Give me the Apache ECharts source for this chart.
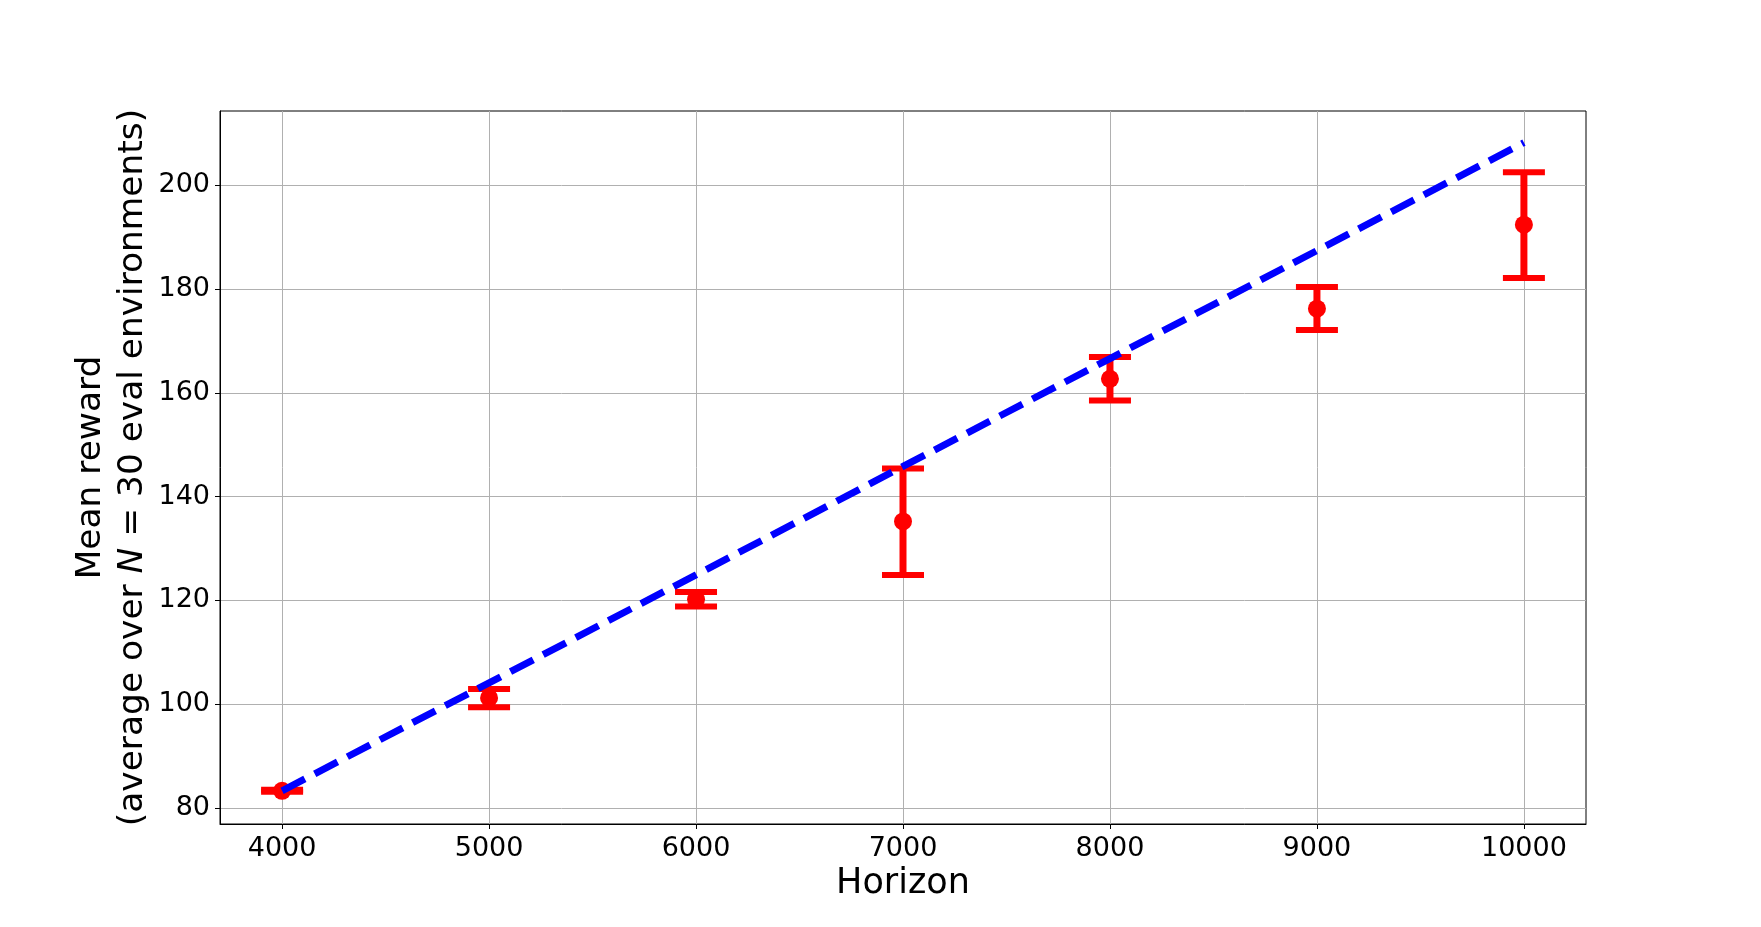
<!DOCTYPE html>
<html>
<head>
<meta charset="utf-8">
<title>Mean reward vs horizon</title>
<script src="https://cdn.jsdelivr.net/npm/echarts@6/dist/echarts.min.js"></script>
<style>
  html, body { margin: 0; padding: 0; background: #fff; }
  #chart { width: 1761px; height: 927px; }
</style>
</head>
<body>
<div id="chart"></div>
<script>
// values
const horizons = [4000, 5000, 6000, 7000, 8000, 9000, 10000]
const meanReward = [83.3, 101.2, 120.2, 135.2, 162.7, 176.2, 192.4]
const errLower = [83.1, 99.4, 118.8, 124.9, 158.5, 172.1, 182.1]
const errUpper = [83.5, 102.9, 121.6, 145.4, 166.9, 180.4, 202.5]
const linearRef = [83.3, 104.1, 124.9, 145.8, 166.6, 187.4, 208.2]
const xTicks = [4000, 5000, 6000, 7000, 8000, 9000, 10000]
const yTicks = [80, 100, 120, 140, 160, 180, 200]

const FONT = 'DejaVu Sans'
const RED = '#ff0000'
const BLUE = '#0000ff'

const chart = echarts.init(document.getElementById('chart'))

const errData = horizons.map((h, i) => [h, errLower[i], errUpper[i]])

const renderErrorBar = (params, api) => {
  const x = api.value(0)
  const top = api.coord([x, api.value(2)])
  const bot = api.coord([x, api.value(1)])
  const half = 21
  return {
    type: 'group',
    children: [
      { type: 'line', shape: { x1: top[0], y1: top[1], x2: bot[0], y2: bot[1] },
        style: { stroke: RED, lineWidth: 7 } },
      { type: 'line', shape: { x1: top[0] - half, y1: top[1], x2: top[0] + half, y2: top[1] },
        style: { stroke: RED, lineWidth: 6 } },
      { type: 'line', shape: { x1: bot[0] - half, y1: bot[1], x2: bot[0] + half, y2: bot[1] },
        style: { stroke: RED, lineWidth: 6 } }
    ]
  }
}

chart.setOption({
  animation: false,
  backgroundColor: '#fff',
  grid: {
    left: 220,
    right: 175,
    top: 111,
    bottom: 103,
    show: true,
    borderColor: '#000',
    borderWidth: 1
  },
  xAxis: {
    type: 'value',
    min: 3700,
    max: 10300,
    name: 'Horizon',
    nameLocation: 'middle',
    nameGap: 42,
    nameMoveOverlap: false,
    nameTextStyle: { fontFamily: FONT, fontSize: 35, color: '#000' },
    axisLine: { show: true, onZero: false, lineStyle: { color: '#000', width: 1 } },
    axisTick: { show: true, length: 5, customValues: xTicks, lineStyle: { color: '#000', width: 1 } },
    axisLabel: {
      customValues: xTicks, margin: 11, fontFamily: FONT, fontSize: 27, color: '#000',
      formatter: v => String(v)
    },
    splitLine: { show: true, lineStyle: { color: '#b0b0b0', width: 1 } }
  },
  yAxis: {
    type: 'value',
    min: 76.9,
    max: 214.3,
    name: 'Mean reward\n(average over {it|N} = 30 eval environments)',
    nameLocation: 'middle',
    nameRotate: 90,
    nameGap: 66,
    nameMoveOverlap: false,
    nameTextStyle: {
      fontFamily: FONT, fontSize: 34.4, lineHeight: 42, color: '#000',
      rich: { it: { fontFamily: FONT, fontSize: 34.4, lineHeight: 42, fontStyle: 'italic', color: '#000' } }
    },
    axisLine: { show: true, onZero: false, lineStyle: { color: '#000', width: 1 } },
    axisTick: { show: true, length: 5, customValues: yTicks, lineStyle: { color: '#000', width: 1 } },
    axisLabel: { customValues: yTicks, margin: 10, fontFamily: FONT, fontSize: 27, color: '#000' },
    splitLine: { show: true, lineStyle: { color: '#b0b0b0', width: 1 } }
  },
  series: [
    {
      name: 'error',
      type: 'custom',
      renderItem: renderErrorBar,
      data: errData,
      z: 2,
      silent: true
    },
    {
      name: 'mean',
      type: 'scatter',
      data: horizons.map((h, i) => [h, meanReward[i]]),
      symbol: 'circle',
      symbolSize: 18,
      itemStyle: { color: RED, opacity: 1 },
      z: 3,
      silent: true
    },
    {
      name: 'linear',
      type: 'line',
      data: horizons.map((h, i) => [h, linearRef[i]]),
      showSymbol: false,
      lineStyle: { color: BLUE, width: 7, type: [25.7, 11.1], cap: 'butt' },
      z: 4,
      silent: true
    }
  ]
})

window.onresize = function () {
  chart.resize()
}
</script>
</body>
</html>
